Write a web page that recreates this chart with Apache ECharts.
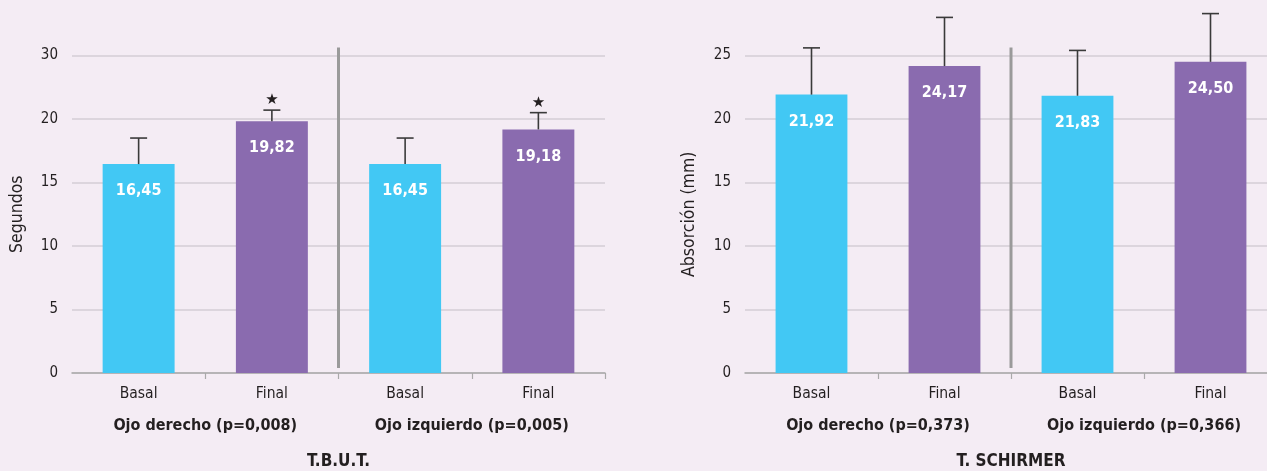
<!DOCTYPE html>
<html><head><meta charset="utf-8">
<script src="https://cdn.jsdelivr.net/npm/echarts@6/dist/echarts.min.js"></script>
<style>html,body{margin:0;padding:0;background:#F4ECF4}#c{width:1267px;height:471px}</style>
</head><body><div id="c"></div>
<script>
const categories = ['Basal', 'Final', 'Basal', 'Final'];
const tbutGroups = ['Ojo derecho (p=0,008)', 'Ojo izquierdo (p=0,005)'];
const schGroups = ['Ojo derecho (p=0,373)', 'Ojo izquierdo (p=0,366)'];
const tbutTitle = 'T.B.U.T.';
const schTitle = 'T. SCHIRMER';
const tbutYName = 'Segundos';
const schYName = 'Absorción (mm)';
const tbutMeans = [16.45, 19.82, 16.45, 19.18];
const tbutErrTop = [18.5, 20.7, 18.5, 20.5];
const tbutStars = [0, 1, 0, 1];
const schMeans = [21.92, 24.17, 21.83, 24.50];
const schErrTop = [25.6, 28.0, 25.4, 28.3];
const schStars = [0, 0, 0, 0];
const tbutTickLabels = ['0', '5', '10', '15', '20', '30'];
const schTickLabels = ['0', '5', '10', '15', '20', '25'];
const separatorAt = [2];

const FONT = "'Liberation Sans Narrow', 'DejaVu Sans Condensed', sans-serif";
const TXT = '#231F20';
const COLORS = ['#42C8F4', '#8A6BAF', '#42C8F4', '#8A6BAF'];

const chart = echarts.init(document.getElementById('c'));

function errItem(params, api) {
  const x = api.value(0), hi = api.value(1), mean = api.value(2), star = api.value(3);
  const top = api.coord([x, hi]);
  const base = api.coord([x, mean]);
  const st = { stroke: '#3A3A3A', lineWidth: 1.6 };
  const ch = [
    { type: 'line', shape: { x1: top[0], y1: top[1], x2: base[0], y2: base[1] }, style: st },
    { type: 'line', shape: { x1: top[0] - 8.5, y1: top[1], x2: top[0] + 8.5, y2: top[1] }, style: st }
  ];
  if (star) ch.push({ type: 'text', x: top[0], y: top[1] - 10,
    style: { text: '★', fill: TXT, font: '15px DejaVu Sans', align: 'center', verticalAlign: 'middle' } });
  return { type: 'group', children: ch };
}
function sepItem(params, api) {
  const x = api.value(0);
  const b = api.coord([x, 0]);
  const t = api.coord([x, 25]);
  const w = api.size([1, 0])[0];
  const px = b[0] - w / 2;
  return { type: 'line', shape: { x1: px, y1: t[1] - 8, x2: px, y2: b[1] - 5 },
    style: { stroke: '#9A9A9A', lineWidth: 3 } };
}

const grids = [
  { left: 72, right: 662, top: 55.5, bottom: 98, containLabel: false, outerBoundsMode: 'none' },
  { left: 745, right: -10, top: 55.5, bottom: 98, containLabel: false, outerBoundsMode: 'none' }
];
function mkX(gi, groups, title) {
  return [
    { type: 'category', gridIndex: gi, data: categories,
      axisLine: { lineStyle: { color: '#A9A9A9', width: 1.5 } },
      axisTick: { show: true, length: 6, interval: (i) => i > 0, lineStyle: { color: '#A9A9A9', width: 1.2 } },
      axisLabel: { color: TXT, fontFamily: FONT, fontSize: 15.5, margin: 13 } },
    { type: 'category', gridIndex: gi, position: 'bottom', offset: 30, data: groups,
      axisLine: { show: false }, axisTick: { show: false },
      axisLabel: { color: TXT, fontFamily: FONT, fontSize: 16, fontWeight: 'bold', margin: 15 },
      name: title, nameLocation: 'middle', nameGap: 50,
      nameTextStyle: { color: TXT, fontFamily: FONT, fontSize: 17, fontWeight: 'bold' } }
  ];
}
function mkY(gi, labels, name, gap) {
  return { type: 'value', gridIndex: gi, min: 0, max: 25, interval: 5,
    axisLine: { show: false }, axisTick: { show: false },
    splitLine: { lineStyle: { color: '#D4CED6', width: 1.5 } },
    axisLabel: { color: TXT, fontFamily: FONT, fontSize: 15, margin: 14, formatter: (v) => labels[Math.round(v / 5)] },
    name: name, nameLocation: 'middle', nameGap: gap, nameRotate: 90,
    nameTextStyle: { color: TXT, fontFamily: FONT, fontSize: 17.5 } };
}
function barSeries(xi, yi, means) {
  return { type: 'bar', xAxisIndex: xi, yAxisIndex: yi, barWidth: '54%',
    data: means.map((v, i) => ({ value: v, itemStyle: { color: COLORS[i] } })),
    label: { show: true, position: 'insideTop', distance: 19, color: '#fff', fontFamily: FONT,
      fontSize: 16, fontWeight: 'bold', formatter: (p) => p.value.toFixed(2).replace('.', ',') } };
}
function errSeries(xi, yi, means, tops, stars) {
  return { type: 'custom', xAxisIndex: xi, yAxisIndex: yi, clip: false, z: 5,
    renderItem: errItem, data: means.map((m, i) => [i, tops[i], m, stars[i]]) };
}
function sepSeries(xi, yi) {
  return { type: 'custom', xAxisIndex: xi, yAxisIndex: yi, clip: false, z: 5,
    renderItem: sepItem, data: separatorAt.map((s) => [s]) };
}

chart.setOption({
  backgroundColor: '#F4ECF4',
  animation: false,
  grid: grids,
  xAxis: [...mkX(0, tbutGroups, tbutTitle), ...mkX(1, schGroups, schTitle)],
  yAxis: [mkY(0, tbutTickLabels, tbutYName, 46), mkY(1, schTickLabels, schYName, 47)],
  series: [
    barSeries(0, 0, tbutMeans), errSeries(0, 0, tbutMeans, tbutErrTop, tbutStars), sepSeries(0, 0),
    barSeries(2, 1, schMeans), errSeries(2, 1, schMeans, schErrTop, schStars), sepSeries(2, 1)
  ]
});
</script></body></html>
